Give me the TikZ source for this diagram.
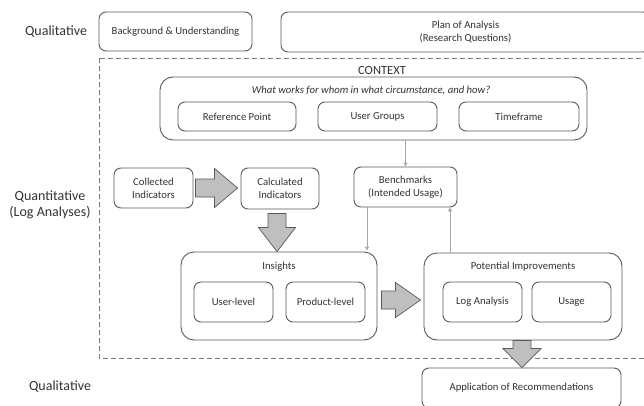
\documentclass[tikz,border=0pt]{standalone}
\usepackage{fontspec}
\setmainfont{Carlito}
\usetikzlibrary{calc,arrows.meta}
\definecolor{edge}{HTML}{5A5A5A}
\definecolor{fatfill}{HTML}{BFBFBF}
\definecolor{thin}{HTML}{A8A8A8}
\definecolor{txt}{HTML}{333333}
\definecolor{dashcol}{HTML}{7A7A7A}
\begin{document}
\begin{tikzpicture}[x=1pt,y=-1pt,
  every node/.style={text=txt},
  sbox/.style={draw=edge, line width=0.9pt, rounded corners=7pt, fill=white, inner sep=0pt, align=center, font=\fontsize{10.7}{13}\selectfont},
  bbox/.style={draw=edge, line width=0.9pt, rounded corners=13pt, inner sep=0pt},
  side/.style={align=center, font=\fontsize{14}{15.5}\selectfont},
  thinarrow/.style={draw=thin, line width=0.9pt, -{Triangle[length=4pt,width=4pt]}},
  fat/.style={draw=edge, line width=0.7pt, fill=fatfill, line join=miter}]
\useasboundingbox (0,0) rectangle (644,406);
\clip (0,0) rectangle (644,406);
\fill[white] (0,0) rectangle (644,406);

% side labels
\node[side] (q1) at (56,32) {Qualitative};
\node[side] (q2) at (50,205) {Quantitative\\(Log Analyses)};
\node[side] (q3) at (60,387) {Qualitative};

% top boxes
\node[sbox, minimum width=153, minimum height=39] (bg) at (175.5,31.5) {Background \& Understanding};
\node[sbox, minimum width=369, minimum height=40] (plan) at (465.5,32) {Plan of Analysis\\(Research Questions)};

% dashed area
\draw[draw=dashcol, line width=0.8pt, dash pattern=on 5pt off 3pt] (99,58) rectangle (650,358);
\node[font=\fontsize{12.5}{14}\selectfont] (ctxlab) at (382,70.5) {CONTEXT};

% context box
\node[bbox, minimum width=427, minimum height=63] (ctx) at (373.5,108.5) {};
\node[font=\fontsize{10.7}{12}\selectfont\itshape] (q) at (371,90) {What works for whom in what circumstance, and how?};
\node[sbox, minimum width=118, minimum height=29] (ref) at (237,116.5) {Reference Point};
\node[sbox, minimum width=119, minimum height=29] (ug) at (377.5,116.5) {User Groups};
\node[sbox, minimum width=120, minimum height=29] (tf) at (519,116.5) {Timeframe};

% indicators
\node[sbox, minimum width=79, minimum height=40] (coll) at (153.5,188) {Collected\\Indicators};
\node[sbox, minimum width=78, minimum height=41] (calc) at (280,188.5) {Calculated\\Indicators};
\node[sbox, minimum width=103, minimum height=40] (bench) at (405.5,187) {Benchmarks\\(Intended Usage)};

% insights
\node[bbox, minimum width=196, minimum height=88] (ins) at (279,296) {};
\node[font=\fontsize{10.7}{12}\selectfont] (inslab) at (279,267) {Insights};
\node[sbox, minimum width=79, minimum height=40] (ul) at (233.5,302) {User-level};
\node[sbox, minimum width=79, minimum height=40] (pl) at (325.5,302) {Product-level};

% potential improvements
\node[bbox, minimum width=198, minimum height=87] (pot) at (523,296.5) {};
\node[font=\fontsize{10.7}{12}\selectfont] (potlab) at (523,267) {Potential Improvements};
\node[sbox, minimum width=79, minimum height=40] (la) at (482.5,302) {Log Analysis};
\node[sbox, minimum width=79, minimum height=40] (us) at (571.5,302) {Usage};

% application
\node[sbox, minimum width=199, minimum height=40] (app) at (521.5,388) {Application of Recommendations};

% thin arrows
\draw[thinarrow] (ctx.south -| bench.north) -- (bench.north);
\draw[thinarrow] ($(bench.south)+(-38.5,0)$) -- ($(bench.south |- ins.north)+(-38.5,-1)$);
\draw[thinarrow] ($(pot.north)+(-73,0)$) -- ($(bench.south)+(44.5,0)$);

% fat arrows (let-coordinates are canvas pt, y upward)
% coll -> calc (right)
\draw[fat] let \p1=($(coll.east)+(2,0)$), \p2=($(calc.west)+(-3,0)$) in
  (\x1,\y1-9) -- (\x2-23,\y1-9) -- (\x2-23,\y1-19.5) -- (\x2,\y1) -- (\x2-23,\y1+19.5) -- (\x2-23,\y1+9) -- (\x1,\y1+9) -- cycle;
% calc -> insights (down)
\draw[fat] let \p1=($(calc.south)+(-3,4)$), \p2=($(ins.north)+(-2,0)$) in
  (\x1-9,\y1) -- (\x1+9,\y1) -- (\x1+9,\y2+24) -- (\x1+18.5,\y2+24) -- (\x1,\y2) -- (\x1-18.5,\y2+24) -- (\x1-9,\y2+24) -- cycle;
% insights -> potential (right)
\draw[fat] let \p1=($(ins.east)+(4,4)$), \p2=($(pot.west)+(-3,0)$) in
  (\x1,\y1-9) -- (\x2-25,\y1-9) -- (\x2-25,\y1-17.5) -- (\x2,\y1) -- (\x2-25,\y1+17.5) -- (\x2-25,\y1+9) -- (\x1,\y1+9) -- cycle;
% potential -> application (down)
\draw[fat] let \p1=($(pot.south)+(-1,0)$), \p2=($(app.north)+(0.5,0)$) in
  (\x1-9,\y1) -- (\x1+9,\y1) -- (\x1+9,\y2+19) -- (\x1+19,\y2+19) -- (\x1,\y2) -- (\x1-19,\y2+19) -- (\x1-9,\y2+19) -- cycle;
\end{tikzpicture}
\end{document}
